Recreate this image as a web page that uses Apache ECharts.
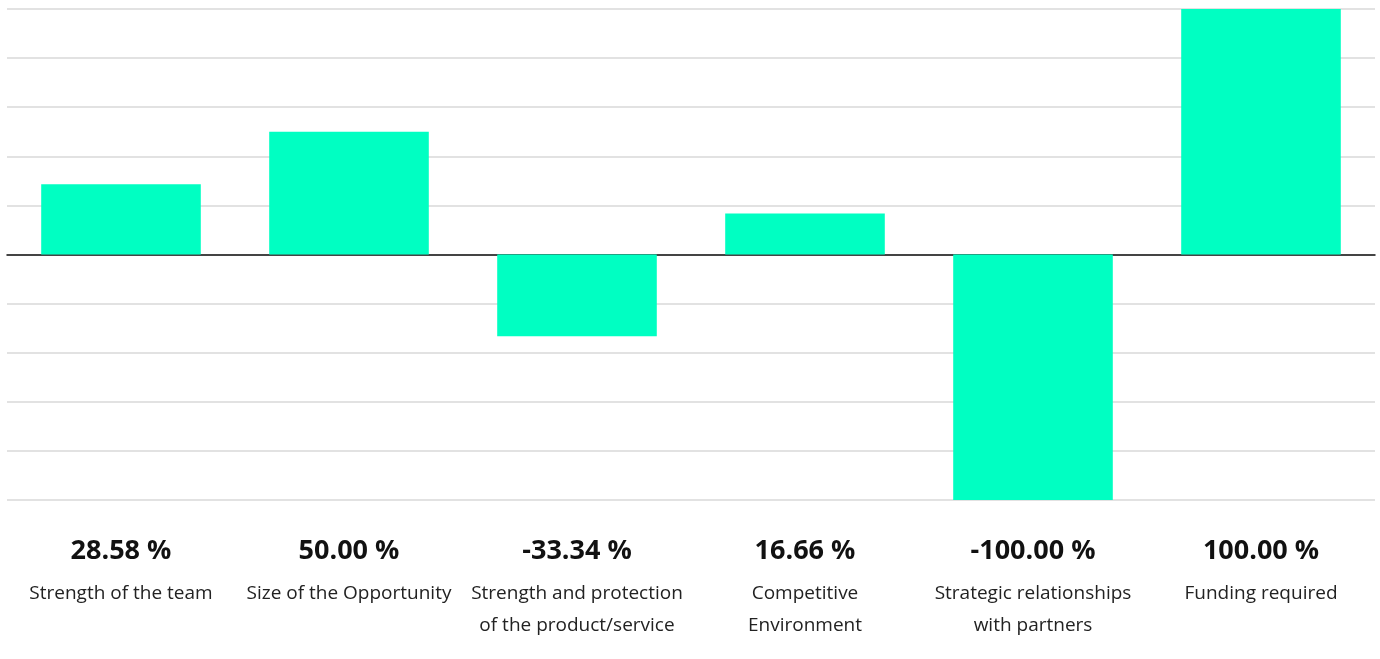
<!DOCTYPE html>
<html>
<head>
<meta charset="utf-8">
<script src="https://cdn.jsdelivr.net/npm/echarts@6/dist/echarts.min.js"></script>
<style>
html,body{margin:0;padding:0;background:#fff;}
#chart{width:1380px;height:659px;}
</style>
</head>
<body>
<div id="chart"></div>
<script>
const categories = [
  "Strength of the team",
  "Size of the Opportunity",
  "Strength and protection\nof the product/service",
  "Competitive\nEnvironment",
  "Strategic relationships\nwith partners",
  "Funding required"
];
const values = [28.58, 50.00, -33.34, 16.66, -100.00, 100.00];

const chart = echarts.init(document.getElementById('chart'));
const fontFamily = '"Open Sans", "Noto Sans", sans-serif';

chart.setOption({
  animation: false,
  grid: { left: 7, right: 5, top: 9, bottom: 159, containLabel: false },
  xAxis: [
    {
      type: 'category',
      data: categories,
      position: 'bottom',
      axisLine: { show: false, onZero: false },
      axisTick: { show: false },
      axisLabel: {
        interval: 0,
        margin: 24,
        verticalAlign: 'top',
        formatter: function (name, idx) {
          const v = values[idx].toFixed(2) + ' %';
          const lines = name.split('\n').map(l => '{n|' + l + '}').join('\n');
          return '{v|' + v + '}\n' + lines;
        },
        rich: {
          v: { fontFamily: fontFamily, fontSize: 27, fontWeight: 'bold', color: '#111', lineHeight: 54, align: 'center' },
          n: { fontFamily: fontFamily, fontSize: 19, color: '#222', lineHeight: 32, align: 'center' }
        }
      }
    },
    {
      type: 'category',
      data: categories,
      position: 'bottom',
      axisLine: { show: true, onZero: true, lineStyle: { color: '#111', width: 1.5 } },
      axisTick: { show: false },
      axisLabel: { show: false }
    }
  ],
  yAxis: {
    type: 'value',
    min: -100,
    max: 100,
    interval: 20,
    axisLabel: { show: false },
    axisLine: { show: false },
    axisTick: { show: false },
    splitLine: { show: true, lineStyle: { color: '#d9d9d9', width: 1.5 } }
  },
  series: [{
    type: 'bar',
    data: values,
    xAxisIndex: 0,
    barWidth: '70%',
    itemStyle: { color: '#00FFC2' },
    z: 1
  }]
});
</script>
</body>
</html>
